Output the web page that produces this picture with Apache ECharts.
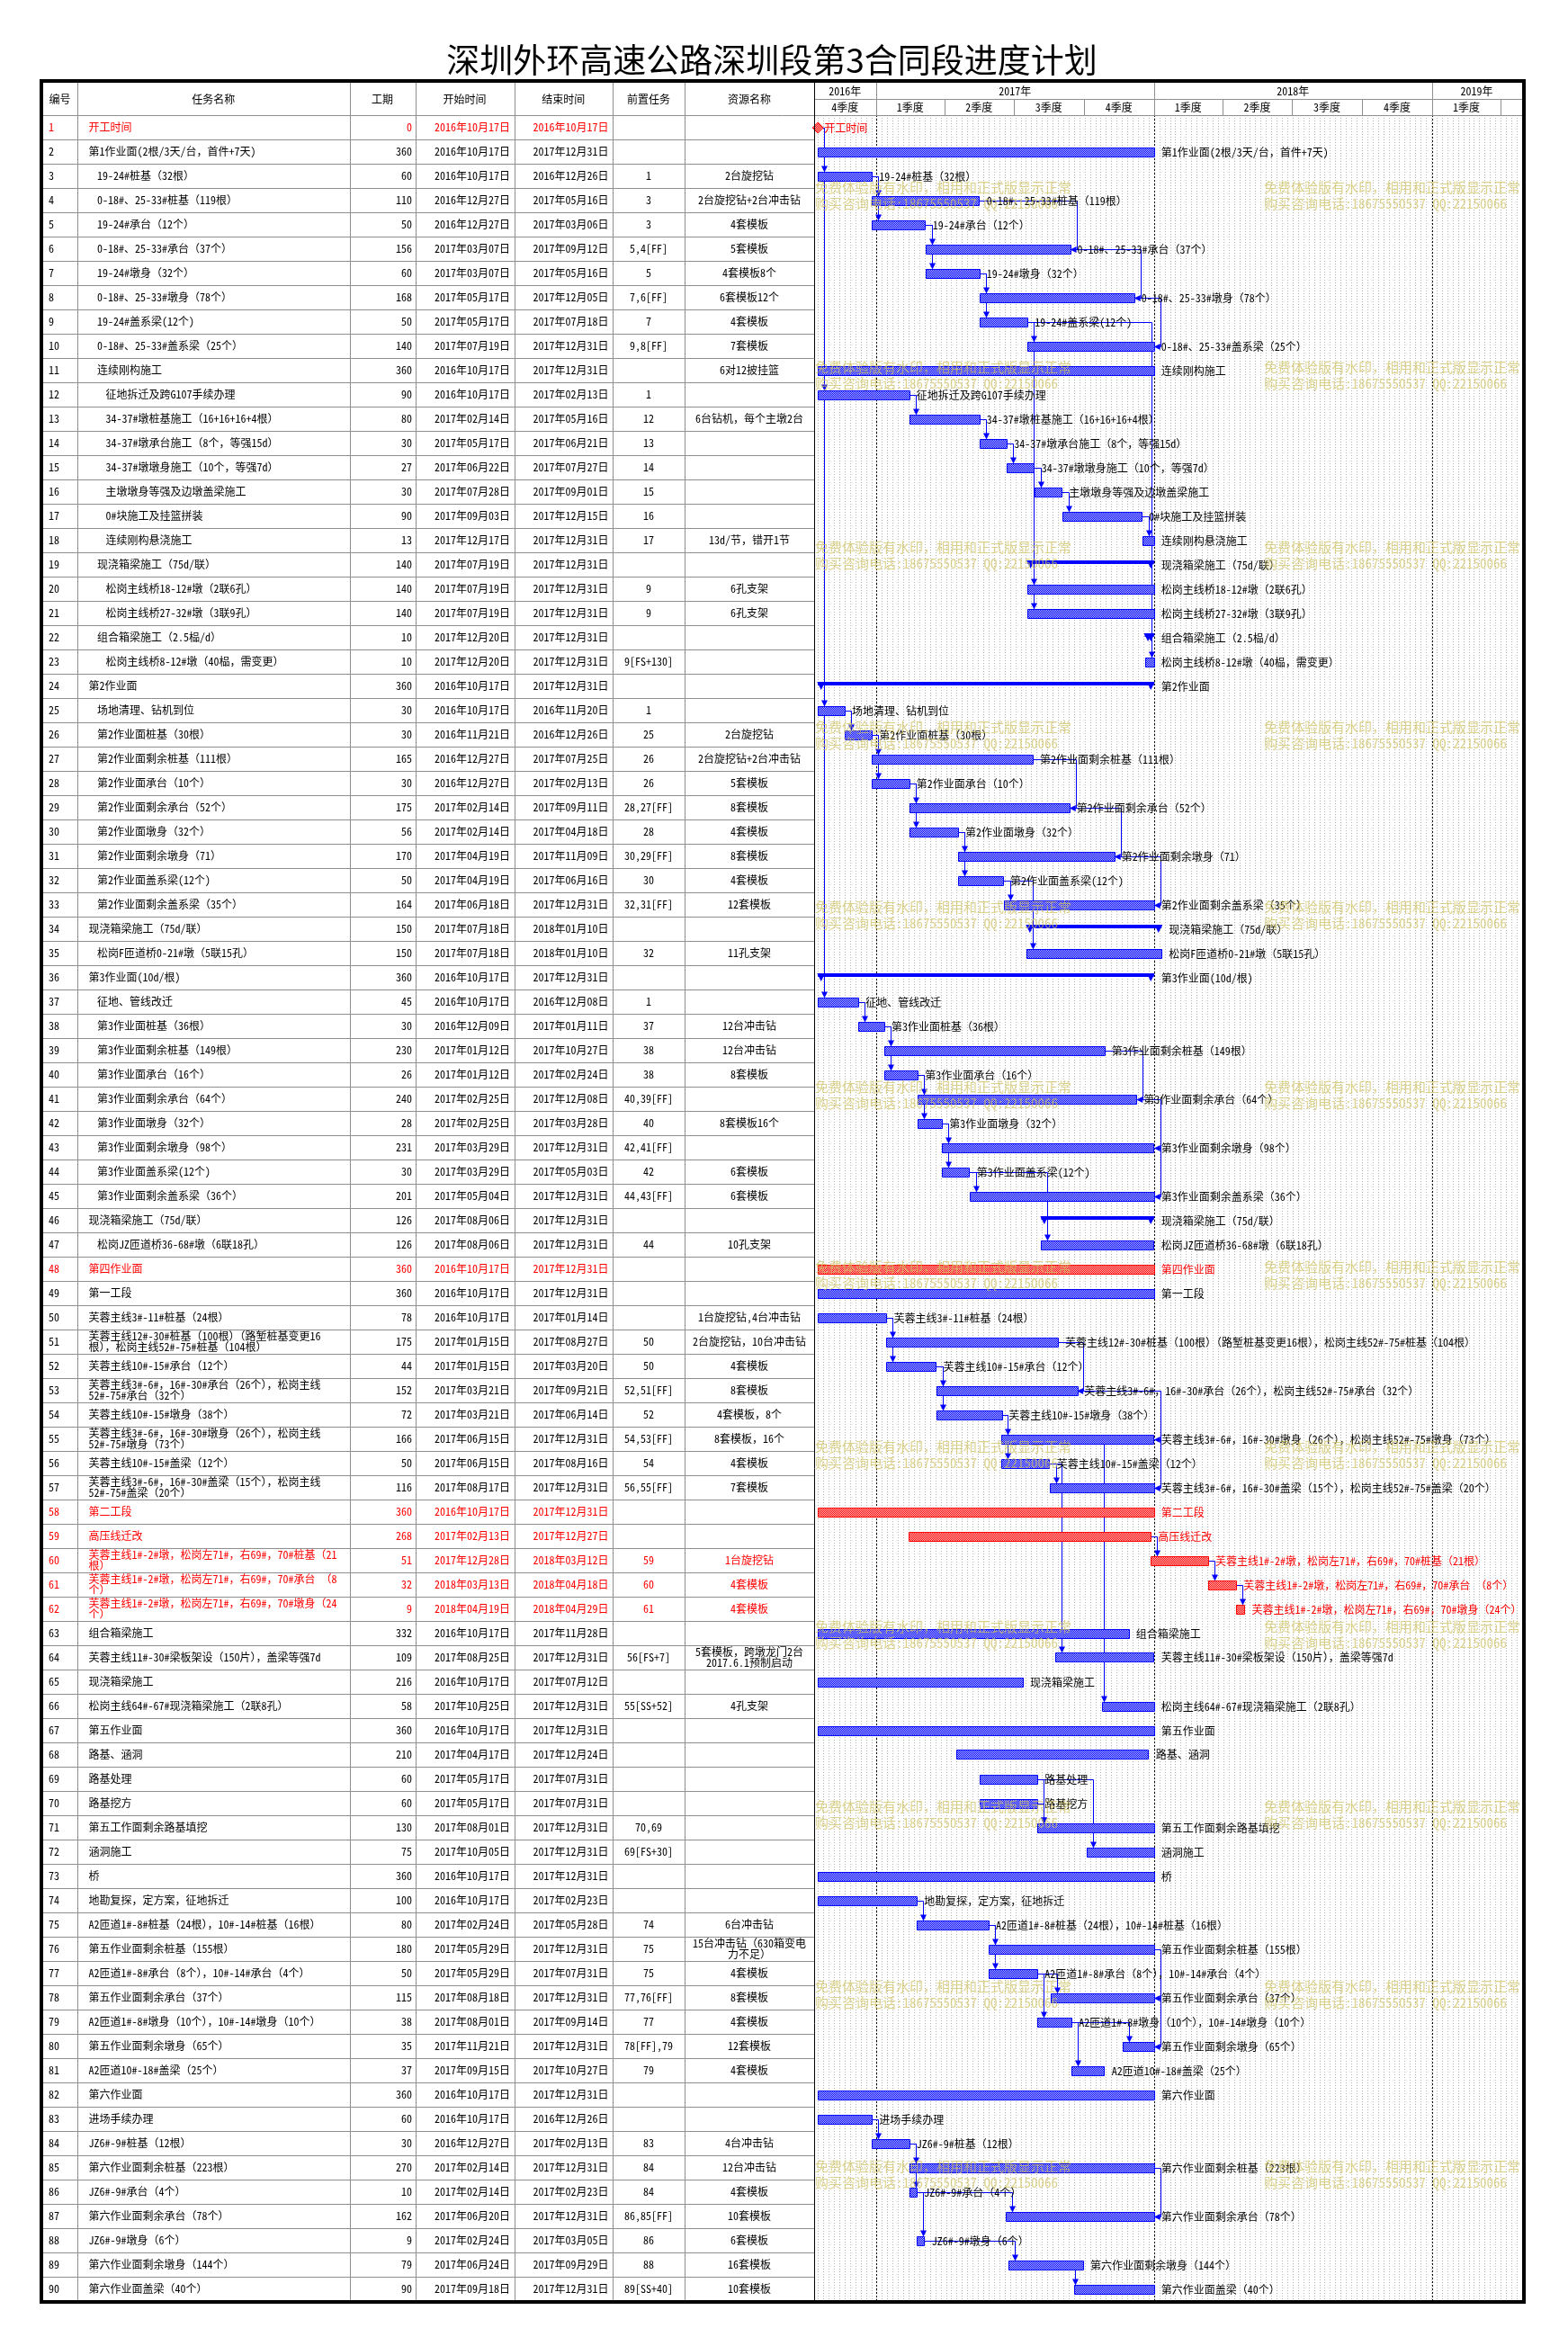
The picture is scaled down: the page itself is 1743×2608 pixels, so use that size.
<!DOCTYPE html>
<html><head><meta charset="utf-8">
<script src="https://cdn.jsdelivr.net/npm/echarts@6/dist/echarts.min.js"></script>
<style>html,body{margin:0;padding:0;background:#fff}#c{width:1743px;height:2608px}</style>
</head><body><div id="c"></div>
<script>
// ---------------- DATA ----------------
const TITLE = '深圳外环高速公路深圳段第3合同段进度计划';
const headers = ['编号','任务名称','工期','开始时间','结束时间','前置任务','资源名称'];
const names = [
'开工时间','第1作业面(2根/3天/台，首件+7天)','19-24#桩基（32根）','0-18#、25-33#桩基（119根）','19-24#承台（12个）',
'0-18#、25-33#承台（37个）','19-24#墩身（32个）','0-18#、25-33#墩身（78个）','19-24#盖系梁(12个)','0-18#、25-33#盖系梁（25个）',
'连续刚构施工','征地拆迁及跨G107手续办理','34-37#墩桩基施工（16+16+16+4根）','34-37#墩承台施工（8个，等强15d）','34-37#墩墩身施工（10个，等强7d）',
'主墩墩身等强及边墩盖梁施工','0#块施工及挂篮拼装','连续刚构悬浇施工','现浇箱梁施工（75d/联）','松岗主线桥18-12#墩（2联6孔）',
'松岗主线桥27-32#墩（3联9孔）','组合箱梁施工（2.5榀/d）','松岗主线桥8-12#墩（40榀，需变更）','第2作业面','场地清理、钻机到位',
'第2作业面桩基（30根）','第2作业面剩余桩基（111根）','第2作业面承台（10个）','第2作业面剩余承台（52个）','第2作业面墩身（32个）',
'第2作业面剩余墩身（71）','第2作业面盖系梁(12个)','第2作业面剩余盖系梁（35个）','现浇箱梁施工（75d/联）','松岗F匝道桥0-21#墩（5联15孔）',
'第3作业面(10d/根)','征地、管线改迁','第3作业面桩基（36根）','第3作业面剩余桩基（149根）','第3作业面承台（16个）',
'第3作业面剩余承台（64个）','第3作业面墩身（32个）','第3作业面剩余墩身（98个）','第3作业面盖系梁(12个)','第3作业面剩余盖系梁（36个）',
'现浇箱梁施工（75d/联）','松岗JZ匝道桥36-68#墩（6联18孔）','第四作业面','第一工段','芙蓉主线3#-11#桩基（24根）',
'芙蓉主线12#-30#桩基（100根）（路堑桩基变更16\n根），松岗主线52#-75#桩基（104根）','芙蓉主线10#-15#承台（12个）','芙蓉主线3#-6#，16#-30#承台（26个），松岗主线\n52#-75#承台（32个）','芙蓉主线10#-15#墩身（38个）','芙蓉主线3#-6#，16#-30#墩身（26个），松岗主线\n52#-75#墩身（73个）',
'芙蓉主线10#-15#盖梁（12个）','芙蓉主线3#-6#，16#-30#盖梁（15个），松岗主线\n52#-75#盖梁（20个）','第二工段','高压线迁改','芙蓉主线1#-2#墩，松岗左71#，右69#，70#桩基（21\n根）',
'芙蓉主线1#-2#墩，松岗左71#，右69#，70#承台 （8\n个）','芙蓉主线1#-2#墩，松岗左71#，右69#，70#墩身（24\n个）','组合箱梁施工','芙蓉主线11#-30#梁板架设（150片），盖梁等强7d','现浇箱梁施工',
'松岗主线64#-67#现浇箱梁施工（2联8孔）','第五作业面','路基、涵洞','路基处理','路基挖方',
'第五工作面剩余路基填挖','涵洞施工','桥','地勘复探，定方案，征地拆迁','A2匝道1#-8#桩基（24根），10#-14#桩基（16根）',
'第五作业面剩余桩基（155根）','A2匝道1#-8#承台（8个），10#-14#承台（4个）','第五作业面剩余承台（37个）','A2匝道1#-8#墩身（10个），10#-14#墩身（10个）','第五作业面剩余墩身（65个）',
'A2匝道10#-18#盖梁（25个）','第六作业面','进场手续办理','JZ6#-9#桩基（12根）','第六作业面剩余桩基（223根）',
'JZ6#-9#承台（4个）','第六作业面剩余承台（78个）','JZ6#-9#墩身（6个）','第六作业面剩余墩身（144个）','第六作业面盖梁（40个）'];
const levels = [0,0,1,1,1,1,1,1,1,1, 1,2,2,2,2,2,2,2,1,2, 2,1,2,0,1,1,1,1,1,1, 1,1,1,0,1,0,1,1,1,1,
 1,1,1,1,1,0,1,0,0,0, 0,0,0,0,0,0,0,0,0,0, 0,0,0,0,0,0,0,0,0,0, 0,0,0,0,0,0,0,0,0,0, 0,0,0,0,0,0,0,0,0,0];
const durations = [0,360,60,110,50,156,60,168,50,140, 360,90,80,30,27,30,90,13,140,140, 140,10,10,360,30,30,165,30,175,56,
 170,50,164,150,150,360,45,30,230,26, 240,28,231,30,201,126,126,360,360,78, 175,44,152,72,166,50,116,360,268,51,
 32,9,332,109,216,58,360,210,60,60, 130,75,360,100,80,180,50,115,38,35, 37,360,60,30,270,10,162,9,79,90];
const starts = ['2016-10-17','2016-10-17','2016-10-17','2016-12-27','2016-12-27','2017-03-07','2017-03-07','2017-05-17','2017-05-17','2017-07-19',
'2016-10-17','2016-10-17','2017-02-14','2017-05-17','2017-06-22','2017-07-28','2017-09-03','2017-12-17','2017-07-19','2017-07-19',
'2017-07-19','2017-12-20','2017-12-20','2016-10-17','2016-10-17','2016-11-21','2016-12-27','2016-12-27','2017-02-14','2017-02-14',
'2017-04-19','2017-04-19','2017-06-18','2017-07-18','2017-07-18','2016-10-17','2016-10-17','2016-12-09','2017-01-12','2017-01-12',
'2017-02-25','2017-02-25','2017-03-29','2017-03-29','2017-05-04','2017-08-06','2017-08-06','2016-10-17','2016-10-17','2016-10-17',
'2017-01-15','2017-01-15','2017-03-21','2017-03-21','2017-06-15','2017-06-15','2017-08-17','2016-10-17','2017-02-13','2017-12-28',
'2018-03-13','2018-04-19','2016-10-17','2017-08-25','2016-10-17','2017-10-25','2016-10-17','2017-04-17','2017-05-17','2017-05-17',
'2017-08-01','2017-10-05','2016-10-17','2016-10-17','2017-02-24','2017-05-29','2017-05-29','2017-08-18','2017-08-01','2017-11-21',
'2017-09-15','2016-10-17','2016-10-17','2016-12-27','2017-02-14','2017-02-14','2017-06-20','2017-02-24','2017-06-24','2017-09-18'];
const ends = ['2016-10-17','2017-12-31','2016-12-26','2017-05-16','2017-03-06','2017-09-12','2017-05-16','2017-12-05','2017-07-18','2017-12-31',
'2017-12-31','2017-02-13','2017-05-16','2017-06-21','2017-07-27','2017-09-01','2017-12-15','2017-12-31','2017-12-31','2017-12-31',
'2017-12-31','2017-12-31','2017-12-31','2017-12-31','2016-11-20','2016-12-26','2017-07-25','2017-02-13','2017-09-11','2017-04-18',
'2017-11-09','2017-06-16','2017-12-31','2018-01-10','2018-01-10','2017-12-31','2016-12-08','2017-01-11','2017-10-27','2017-02-24',
'2017-12-08','2017-03-28','2017-12-31','2017-05-03','2017-12-31','2017-12-31','2017-12-31','2017-12-31','2017-12-31','2017-01-14',
'2017-08-27','2017-03-20','2017-09-21','2017-06-14','2017-12-31','2017-08-16','2017-12-31','2017-12-31','2017-12-27','2018-03-12',
'2018-04-18','2018-04-29','2017-11-28','2017-12-31','2017-07-12','2017-12-31','2017-12-31','2017-12-24','2017-07-31','2017-07-31',
'2017-12-31','2017-12-31','2017-12-31','2017-02-23','2017-05-28','2017-12-31','2017-07-31','2017-12-31','2017-09-14','2017-12-31',
'2017-10-27','2017-12-31','2016-12-26','2017-02-13','2017-12-31','2017-02-23','2017-12-31','2017-03-05','2017-09-29','2017-12-31'];
const preds = ['','','1','3','3','5,4[FF]','5','7,6[FF]','7','9,8[FF]',
'','1','12','13','14','15','16','17','','9',
'9','','9[FS+130]','','1','25','26','26','28,27[FF]','28',
'30,29[FF]','30','32,31[FF]','','32','','1','37','38','38',
'40,39[FF]','40','42,41[FF]','42','44,43[FF]','','44','','','',
'50','50','52,51[FF]','52','54,53[FF]','54','56,55[FF]','','','59',
'60','61','','56[FS+7]','','55[SS+52]','','','','',
'70,69','69[FS+30]','','','74','75','75','77,76[FF]','77','78[FF],79',
'79','','','83','84','84','86,85[FF]','86','88','89[SS+40]'];
const resources = ['','','2台旋挖钻','2台旋挖钻+2台冲击钻','4套模板','5套模板','4套模板8个','6套模板12个','4套模板','7套模板',
'6对12披挂篮','','6台钻机，每个主墩2台','','','','','13d/节，错开1节','','6孔支架',
'6孔支架','','','','','2台旋挖钻','2台旋挖钻+2台冲击钻','5套模板','8套模板','4套模板',
'8套模板','4套模板','12套模板','','11孔支架','','','12台冲击钻','12台冲击钻','8套模板',
'','8套模板16个','','6套模板','6套模板','','10孔支架','','','1台旋挖钻,4台冲击钻',
'2台旋挖钻，10台冲击钻','4套模板','8套模板','4套模板，8个','8套模板，16个','4套模板','7套模板','','','1台旋挖钻',
'4套模板','4套模板','','5套模板，跨墩龙门2台\n2017.6.1预制启动','','4孔支架','','','','',
'','','','','6台冲击钻','15台冲击钻（630箱变电\n力不足）','4套模板','8套模板','4套模板','12套模板',
'4套模板','','','4台冲击钻','12台冲击钻','4套模板','10套模板','6套模板','16套模板','10套模板'];
const redRows = [1,48,58,59,60,61,62];
const summaryRows = [19,22,24,34,36,46];
const yearLabels = ['2016年','2017年','2018年','2019年'];
const yearStarts = ['2016-01-01','2017-01-01','2018-01-01','2019-01-01'];
const quarterLabels = ['4季度','1季度','2季度','3季度','4季度','1季度','2季度','3季度','4季度','1季度',''];
const quarterStarts = ['2016-10-01','2017-01-01','2017-04-01','2017-07-01','2017-10-01','2018-01-01','2018-04-01','2018-07-01','2018-10-01','2019-01-01','2019-04-01'];
const viewStart = '2016-10-12', viewEnd = '2019-04-28';
const watermarkLines = ['免费体验版有水印，相用和正式版显示正常','购买咨询电话:18675550537 QQ:22150066'];

// ---------------- HELPERS / STYLE ----------------
const FF = "'Noto Sans Mono CJK SC','Noto Sans CJK SC',sans-serif";
const FONT = "12px " + FF;
const GRID_C = '#8f8f8f';
const BLUE = '#0000ff', RED = '#ff0000';
function day(s){const p=s.split('-').map(Number);return (Date.UTC(p[0],p[1]-1,p[2])-Date.UTC(2017,0,1))/864e5;}
function cn(s){const p=s.split('-');return p[0]+'年'+p[1]+'月'+p[2]+'日';}
function pattern(c1,c2){const cv=document.createElement('canvas');cv.width=2;cv.height=2;const g=cv.getContext('2d');
  g.fillStyle=c2;g.fillRect(0,0,2,2);g.fillStyle=c1;g.fillRect(0,0,1,1);g.fillRect(1,1,1,1);return {image:cv,repeat:'repeat'};}
const PAT_B = pattern('#0000ff','#b8b8ff');
const PAT_R = pattern('#ff0000','#ffb8b8');
const isRed = i => redRows.indexOf(i+1) >= 0;
const isSum = i => summaryRows.indexOf(i+1) >= 0;
const endDay = i => day(ends[i]) + (durations[i] > 0 ? 1 : 0);

const COLS = [47, 86, 388.5, 461.5, 571.5, 681, 761, 905];
const G_TOP = 128, G_H = 2430, G_LEFT = 905, G_W = 786;

// links parsed from predecessor column
const links = [];
preds.forEach((s, i) => {
  if (!s) return;
  s.split(',').forEach(tok => {
    const m = tok.trim().match(/^(\d+)(?:\[(FS|FF|SS|SF)([+-]\d+)?\])?$/);
    if (!m) return;
    const t = m[2] || 'FS';
    links.push([0, +m[1]-1, i, t === 'FF' ? 1 : (t === 'SS' ? 2 : 0)]);
  });
});

// ---------------- RENDERERS ----------------
function renderTable(params, api){
  const i = api.value(1);
  const cs = params.coordSys;
  const yc = api.coord([0, i])[1];
  const h = api.size([0, 1])[1];
  const sc = cs.width / (COLS[COLS.length-1] - COLS[0]);
  const cx = COLS.map(c => cs.x + (c - COLS[0]) * sc);
  const col = isRed(i) ? RED : '#000';
  const yb = Math.round(yc + h/2) + 0.5;
  const ch = [];
  ch.push({type:'line', shape:{x1:cs.x, y1:yb, x2:cs.x+cs.width, y2:yb}, style:{stroke:GRID_C, lineWidth:1}});
  for (let k = 1; k < cx.length-1; k++) {
    const xx = Math.round(cx[k]) + 0.5;
    ch.push({type:'line', shape:{x1:xx, y1:yc-h/2, x2:xx, y2:yc+h/2}, style:{stroke:GRID_C, lineWidth:1}});
  }
  const T = (t, x, al) => ({type:'text', x:x, y:yc, style:{text:t, font:FONT, fill:col, align:al, verticalAlign:'middle', lineHeight:12}});
  ch.push(T(String(i+1), cx[0]+7, 'left'));
  ch.push(T(names[i], cx[1]+12.5+levels[i]*9.5, 'left'));
  ch.push(T(String(durations[i]), cx[3]-3.5, 'right'));
  ch.push(T(cn(starts[i]), cx[4]-4.5, 'right'));
  ch.push(T(cn(ends[i]), cx[5]-4.5, 'right'));
  ch.push(T(preds[i], (cx[5]+cx[6])/2, 'center'));
  ch.push(T(resources[i], (cx[6]+cx[7])/2, 'center'));
  return {type:'group', children:ch};
}

function renderGridLines(params, api){
  const cs = params.coordSys;
  const ch = [];
  const d0 = day('2016-10-17');
  for (let d = d0; d < day(viewEnd); d += 7) {
    const x = Math.round(api.coord([d, 0])[0]) + 0.5;
    if (x <= cs.x + 1 || x >= cs.x + cs.width) continue;
    ch.push({type:'line', shape:{x1:x, y1:cs.y, x2:x, y2:cs.y+cs.height}, style:{stroke:'#b4b4b4', lineWidth:1, lineDash:[1,2]}});
  }
  yearStarts.forEach(s => {
    const x = Math.round(api.coord([day(s), 0])[0]) + 0.5;
    if (x <= cs.x + 1 || x >= cs.x + cs.width) return;
    ch.push({type:'line', shape:{x1:x, y1:cs.y, x2:x, y2:cs.y+cs.height}, style:{stroke:'#000', lineWidth:1, lineDash:[2,2]}});
  });
  return {type:'group', children:ch};
}

function renderHeader(params, api){
  const cs = params.coordSys;
  const rowType = api.value(4), idx = api.value(3);
  const xa = Math.max(cs.x, api.coord([api.value(0), 0])[0]);
  const xb = Math.min(cs.x + cs.width, api.coord([api.value(2), 0])[0]);
  const top = rowType === 0 ? cs.y - 36 : cs.y - 18;
  const label = rowType === 0 ? yearLabels[idx] : quarterLabels[idx];
  const ch = [];
  if (xb < cs.x + cs.width - 1) {
    const xx = Math.round(xb) + 0.5;
    ch.push({type:'line', shape:{x1:xx, y1:top, x2:xx, y2:top+18}, style:{stroke:GRID_C, lineWidth:1}});
  }
  ch.push({type:'text', x:(xa+xb)/2, y:top+9.5, style:{text:label, font:FONT, fill:'#000', align:'center', verticalAlign:'middle'}});
  return {type:'group', children:ch};
}

function renderBar(params, api){
  const i = api.value(2);
  const a = api.coord([api.value(0), i]), b = api.coord([api.value(1), i]);
  const y = Math.round(a[1]);
  const x0 = a[0], x1 = b[0];
  const red = isRed(i);
  const stroke = red ? RED : BLUE;
  const ch = [];
  let lx;
  if (durations[i] === 0) {
    ch.push({type:'polygon', shape:{points:[[x0,y-6],[x0+6,y],[x0,y+6],[x0-6,y]]}, style:{fill:PAT_R, stroke:RED, lineWidth:1}});
    lx = x0 + 7;
  } else if (isSum(i)) {
    ch.push({type:'rect', shape:{x:x0, y:y-5, width:x1-x0, height:4}, style:{fill:stroke}});
    ch.push({type:'polygon', shape:{points:[[x0-1,y-5],[x0+8,y-5],[x0+3.5,y+4]]}, style:{fill:stroke}});
    ch.push({type:'polygon', shape:{points:[[x1+1,y-5],[x1-8,y-5],[x1-3.5,y+4]]}, style:{fill:stroke}});
    lx = x1 + 8;
  } else {
    const xr = Math.round(x0) + 0.5, w = Math.max(2, Math.round(x1 - x0));
    ch.push({type:'rect', shape:{x:xr, y:y-4.5, width:w, height:10}, style:{fill:red ? PAT_R : PAT_B, stroke:stroke, lineWidth:1}});
    lx = x1 + 8;
  }
  ch.push({type:'text', x:lx, y:y+0.5, style:{text:names[i].replace('\n',''), font:FONT, fill:red ? RED : '#000', align:'left', verticalAlign:'middle'}});
  return {type:'group', children:ch};
}

function renderLink(params, api){
  const p = api.value(1), s = api.value(2), t = api.value(3);
  const X = d => api.coord([d, 0])[0];
  const Y = r => Math.round(api.coord([0, r])[1]) + 0.5;
  const xeP = X(endDay(p));
  const xsS = X(day(starts[s])), xeS = X(endDay(s));
  const yP = Y(p), yS = Y(s);
  const st = {stroke:BLUE, lineWidth:1, fill:null};
  const ch = [];
  if (t === 0) {
    const xv = Math.round(Math.max(xeP, xsS) + 7) + 0.5;
    const yt = yS - 5;
    ch.push({type:'polyline', shape:{points:[[xeP, yP],[xv, yP],[xv, yt-6]]}, style:st});
    ch.push({type:'polygon', shape:{points:[[xv-3.5, yt-7],[xv+3.5, yt-7],[xv, yt]]}, style:{fill:BLUE}});
  } else if (t === 1) {
    const xv = Math.round(Math.max(xeP, xeS) + 7) + 0.5;
    ch.push({type:'polyline', shape:{points:[[xeP, yP],[xv, yP],[xv, yS],[xeS+6, yS]]}, style:st});
    ch.push({type:'polygon', shape:{points:[[xeS+7, yS-3.5],[xeS+7, yS+3.5],[xeS, yS]]}, style:{fill:BLUE}});
  } else {
    const xv = Math.round(xsS + 1.5) + 0.5;
    const yt = yS - 5;
    ch.push({type:'polyline', shape:{points:[[xv, yP+5],[xv, yt-6]]}, style:st});
    ch.push({type:'polygon', shape:{points:[[xv-3.5, yt-7],[xv+3.5, yt-7],[xv, yt]]}, style:{fill:BLUE}});
  }
  return {type:'group', children:ch};
}

// ---------------- OPTION ----------------
const rowIdx = names.map((_, i) => i);
const headerData = [];
yearStarts.forEach((s, k) => headerData.push([day(s), 0, k+1 < yearStarts.length ? day(yearStarts[k+1]) : day(viewEnd), k, 0]));
quarterStarts.forEach((s, k) => headerData.push([day(s), 0, k+1 < quarterStarts.length ? day(quarterStarts[k+1]) : day(viewEnd), k, 1]));

const graphic = [];
graphic.push({type:'text', x:858, y:67, style:{text:TITLE, font:"37px 'Noto Sans CJK SC',sans-serif", fill:'#000', align:'center', verticalAlign:'middle'}, z:20});
headers.forEach((hd, k) => {
  graphic.push({type:'text', x:(COLS[k]+COLS[k+1])/2, y:110, style:{text:hd, font:FONT, fill:'#000', align:'center', verticalAlign:'middle'}, z:20});
  if (k > 0) graphic.push({type:'line', shape:{x1:Math.round(COLS[k])+0.5, y1:92, x2:Math.round(COLS[k])+0.5, y2:128}, style:{stroke:GRID_C, lineWidth:1}, z:20});
});
graphic.push({type:'line', shape:{x1:47, y1:128.5, x2:1692, y2:128.5}, style:{stroke:GRID_C, lineWidth:1}, z:20});
graphic.push({type:'line', shape:{x1:905, y1:110.5, x2:1692, y2:110.5}, style:{stroke:GRID_C, lineWidth:1}, z:20});
graphic.push({type:'line', shape:{x1:905.5, y1:90, x2:905.5, y2:2558}, style:{stroke:'#000', lineWidth:1}, z:20});
for (let k = 0; k < 12; k++) {
  [906, 1405].forEach(x => {
    watermarkLines.forEach((t, j) => {
      graphic.push({type:'text', x:x, y:208 + 200*k + 18*j, style:{text:t, font:"15px " + FF, fill:'rgba(206,192,96,0.72)', align:'left', verticalAlign:'middle'}, z:30, silent:true});
    });
  });
}
graphic.push({type:'rect', shape:{x:46, y:90, width:1648, height:2469}, style:{fill:null, stroke:'#000', lineWidth:4}, z:40});

const option = {
  animation:false,
  backgroundColor:'#fff',
  grid:[{left:47, top:G_TOP, width:858, height:G_H}, {left:G_LEFT, top:G_TOP, width:G_W, height:G_H}],
  xAxis:[{gridIndex:0, type:'value', min:0, max:1, show:false},
         {gridIndex:1, type:'value', min:day(viewStart), max:day(viewEnd), show:false}],
  yAxis:[{gridIndex:0, type:'category', data:rowIdx.map(i=>String(i+1)), inverse:true, show:false},
         {gridIndex:1, type:'category', data:rowIdx.map(i=>String(i+1)), inverse:true, show:false}],
  series:[
    {type:'custom', xAxisIndex:0, yAxisIndex:0, data:rowIdx.map(i=>[0.5, i]), encode:{x:0, y:1}, renderItem:renderTable, z:2, silent:true},
    {type:'custom', xAxisIndex:1, yAxisIndex:1, data:[[day(viewStart), 0]], encode:{x:0, y:1}, renderItem:renderGridLines, z:1, silent:true},
    {type:'custom', xAxisIndex:1, yAxisIndex:1, data:headerData, encode:{x:[0,2], y:1}, renderItem:renderHeader, clip:false, z:5, silent:true},
    {type:'custom', xAxisIndex:1, yAxisIndex:1, data:links, encode:{x:0, y:1}, renderItem:renderLink, z:3, silent:true},
    {type:'custom', xAxisIndex:1, yAxisIndex:1, data:rowIdx.map(i=>[day(starts[i]), endDay(i), i]), encode:{x:[0,1], y:2}, renderItem:renderBar, clip:false, z:4, silent:true}
  ],
  graphic:graphic
};
const chart = echarts.init(document.getElementById('c'), null, {renderer:'canvas', width:1743, height:2608});
chart.setOption(option);
</script></body></html>
